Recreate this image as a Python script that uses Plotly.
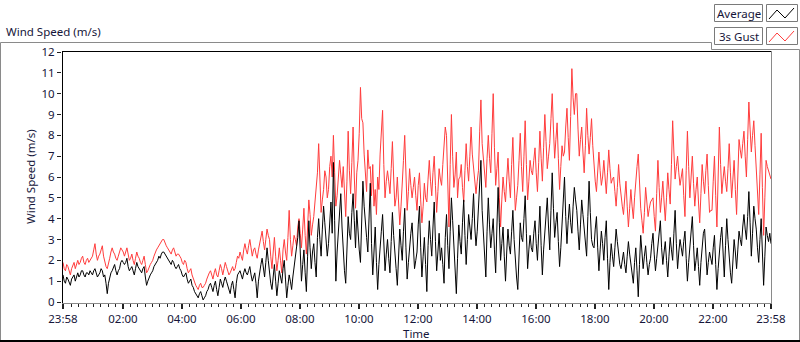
import plotly.graph_objects as go

# ---- data (2.5-minute samples, 23:58 -> 23:58) ----
sample_minutes = 2.5
tick_labels = ["23:58", "02:00", "04:00", "06:00", "08:00", "10:00", "12:00",
               "14:00", "16:00", "18:00", "20:00", "22:00", "23:58"]

average = [
1.3,1.0,0.9,1.2,1.1,0.9,0.8,1.1,1.2,1.3,1.0,1.2,1.4,1.2,1.3,1.5,1.5,1.3,1.2,1.4,1.4,1.3,1.5,1.4,
1.3,1.5,1.6,1.4,1.2,1.3,1.4,1.6,1.5,1.2,1.3,0.9,0.4,0.9,1.2,1.4,1.5,1.7,1.8,1.5,1.3,1.5,1.6,1.9,
2.0,1.9,1.8,1.9,2.1,1.7,1.5,1.6,1.7,1.5,1.3,1.6,1.9,1.7,1.6,1.5,1.4,1.6,1.7,1.2,0.8,1.0,1.2,1.3,
1.4,1.5,1.7,1.8,1.9,2.0,2.2,2.1,2.3,2.4,2.4,2.3,2.2,2.1,2.0,1.9,1.8,2.0,1.9,1.7,1.6,1.7,1.8,1.6,
1.5,1.3,1.2,1.3,1.4,1.1,0.9,1.0,1.1,0.8,0.7,0.5,0.4,0.3,0.2,0.4,0.5,0.3,0.1,0.2,0.3,0.5,0.6,0.8,
0.9,0.7,0.5,0.8,1.0,0.6,0.3,0.7,1.1,0.9,0.7,1.0,1.2,1.0,0.8,0.6,0.4,0.8,1.0,0.6,0.2,0.9,1.3,1.4,
1.5,1.3,1.1,1.4,1.6,1.4,1.3,1.5,1.7,1.3,1.0,1.2,1.4,0.9,0.2,1.0,1.5,1.8,2.1,1.6,1.2,1.9,2.6,2.0,
1.4,0.9,0.6,1.2,1.8,1.0,0.3,0.9,1.5,1.2,0.9,1.6,2.0,1.1,0.2,0.8,1.3,1.0,0.6,1.2,1.7,2.0,2.4,3.1,
3.9,2.0,1.0,1.8,2.5,1.4,0.5,2.2,3.9,2.6,1.6,2.4,2.8,1.9,1.2,3.1,4.0,3.0,2.2,3.5,4.6,3.8,3.0,2.2,
2.8,4.1,4.8,3.3,6.7,3.9,1.0,2.4,3.5,4.4,5.2,3.6,2.1,1.5,0.9,2.7,4.1,3.3,3.0,4.3,5.2,3.9,2.6,4.4,
3.2,2.5,1.9,3.7,5.8,4.6,4.0,3.1,2.4,4.0,5.7,2.8,1.3,2.4,3.6,1.9,0.6,1.8,2.9,3.4,4.2,2.7,1.5,2.3,
3.0,2.1,1.4,2.9,4.3,3.2,2.2,1.6,0.8,2.3,3.5,2.7,2.0,3.4,4.5,2.6,1.1,1.9,2.7,3.3,3.8,2.5,1.6,2.0,
2.4,3.7,4.6,2.6,1.2,2.2,3.1,1.8,0.5,2.7,3.9,3.0,2.2,3.6,4.8,2.9,1.5,2.4,3.3,2.0,2.6,1.8,0.9,3.1,
4.2,2.7,1.6,3.4,5.0,3.9,2.8,1.7,0.4,2.1,3.7,2.9,2.3,3.8,4.9,3.2,1.8,3.0,4.2,3.6,3.0,4.0,5.2,3.6,
2.7,3.4,4.5,5.6,6.8,4.4,3.1,2.2,1.2,3.4,5.0,3.7,2.6,3.3,4.0,2.5,1.4,3.6,5.5,3.8,2.0,2.8,3.6,2.2,
1.0,2.4,3.5,2.7,2.3,3.4,4.4,3.0,1.8,1.2,0.6,2.2,3.8,3.1,2.9,4.0,5.1,3.3,1.6,2.5,3.2,2.6,2.4,3.3,
3.9,2.8,2.0,3.3,4.6,2.7,1.3,2.5,3.4,4.2,5.0,3.6,2.5,4.4,6.2,4.5,3.1,3.8,4.3,2.9,1.7,2.6,3.6,4.8,
6.0,4.1,2.8,3.9,4.7,3.8,3.3,4.6,5.5,4.9,4.4,3.4,2.5,3.7,4.9,4.2,3.6,2.8,2.2,4.1,5.8,4.3,3.0,2.7,
2.6,3.5,4.1,2.6,1.5,2.5,3.4,2.8,2.0,3.1,3.9,2.1,0.6,1.9,2.8,2.2,1.7,2.6,3.5,2.9,2.2,1.8,1.6,2.0,
2.4,1.8,1.4,2.2,2.9,2.3,1.8,1.3,0.9,1.9,2.6,1.5,0.25,1.8,3.2,2.4,1.6,2.2,2.7,1.9,1.3,1.8,2.1,2.8,
3.3,2.3,1.5,2.1,2.6,3.2,3.9,2.6,1.8,2.4,2.9,2.0,1.2,2.2,3.1,2.5,2.0,3.3,4.4,2.8,1.6,2.4,3.0,2.6,
2.2,2.9,3.4,2.1,1.0,1.9,2.8,3.5,4.1,2.7,1.5,2.0,2.6,1.7,0.8,1.9,2.9,3.3,3.5,2.3,1.3,1.9,2.4,2.1,
1.8,2.6,3.2,1.8,0.6,1.6,2.5,3.1,3.6,2.3,1.2,2.7,4.0,3.0,2.1,1.4,0.9,2.0,3.0,2.4,1.6,2.5,3.4,3.0,
2.7,3.6,4.2,3.5,3.0,4.1,5.3,3.8,2.2,3.3,4.6,4.0,3.5,2.6,1.9,3.0,4.0,2.4,0.8,2.2,3.6,3.2,2.9,3.3,
2.8]

gust = [
1.9,1.6,1.5,1.8,1.7,1.5,1.3,1.6,1.8,1.9,1.6,1.8,2.0,1.8,1.9,2.1,2.2,1.9,1.8,2.0,2.1,1.9,2.0,2.1,
2.2,2.5,2.8,2.3,2.0,2.2,2.3,2.5,2.7,2.2,1.9,1.7,1.6,1.8,2.1,2.4,2.6,2.4,2.3,2.1,2.0,2.2,2.4,2.6,
2.5,2.4,2.2,2.4,2.6,2.3,2.0,2.1,2.3,2.0,1.8,2.1,2.4,2.2,2.1,1.9,1.8,2.0,2.2,1.8,1.4,1.5,1.7,1.8,
1.9,2.0,2.2,2.4,2.5,2.6,2.7,2.8,2.9,3.0,3.0,2.8,2.7,2.6,2.5,2.4,2.3,2.5,2.6,2.4,2.2,2.3,2.3,2.2,
2.1,1.9,1.8,2.0,1.9,1.6,1.4,1.5,1.6,1.3,1.1,0.9,0.8,0.7,0.6,0.8,0.9,0.7,0.7,0.8,0.9,1.1,1.3,1.4,
1.5,1.3,1.1,1.4,1.6,1.3,1.2,1.5,1.8,1.6,1.3,1.6,1.9,1.7,1.5,1.3,1.4,1.6,1.7,1.5,1.6,1.9,2.2,2.1,
2.4,2.2,2.0,2.5,2.8,2.5,2.3,2.7,3.0,2.6,2.2,2.5,2.6,2.3,2.1,2.5,2.8,3.1,3.4,2.9,2.5,3.0,3.5,3.2,
3.0,2.2,1.6,2.4,3.1,2.2,1.5,2.0,2.6,2.0,1.4,2.5,3.0,2.4,2.0,3.1,4.4,3.0,2.2,2.7,3.2,3.0,2.7,3.6,
4.0,3.3,2.6,3.5,4.5,3.2,2.3,3.6,4.9,4.2,3.2,3.7,4.1,4.8,5.5,6.2,7.6,5.6,4.3,4.9,5.4,6.3,6.0,5.0,
5.4,6.5,7.0,6.0,8.0,6.2,4.6,5.1,6.2,6.8,6.1,5.5,6.5,5.2,4.1,5.8,8.2,6.3,5.2,6.7,8.4,6.0,4.5,6.2,
6.8,8.1,10.3,8.8,8.6,7.1,6.0,5.3,7.3,6.4,6.5,5.1,6.6,4.6,5.4,4.2,6.0,5.4,7.1,8.0,9.2,6.6,5.0,5.8,
6.3,5.8,5.2,6.4,7.7,6.0,4.6,5.0,6.0,4.8,3.7,4.6,5.5,6.8,8.0,5.9,4.4,5.3,6.4,5.6,5.0,5.5,6.0,5.1,
4.4,5.6,6.2,4.9,3.8,4.6,5.7,5.0,4.8,5.9,6.8,5.8,5.1,6.2,7.0,5.6,4.3,5.3,6.4,5.9,5.6,6.6,7.6,8.4,
8.0,5.4,3.6,6.6,9.0,7.0,5.5,6.1,7.2,5.0,5.9,6.0,6.6,5.5,4.8,6.3,7.6,6.5,5.8,7.0,8.4,7.1,6.4,5.6,
5.2,5.8,6.3,8.2,9.7,7.6,6.8,6.0,5.5,6.9,8.0,6.9,6.2,8.1,10.0,7.4,5.6,6.4,7.2,5.0,3.6,4.9,6.0,5.3,
4.8,5.9,6.9,5.8,5.0,6.6,7.9,5.9,4.4,5.0,5.6,6.8,8.1,6.5,5.3,7.0,8.7,6.6,4.9,5.8,6.8,6.3,6.1,6.8,
7.4,6.2,5.3,6.7,8.2,6.9,5.8,7.4,9.0,7.7,6.4,7.0,7.6,8.8,10.0,8.3,6.9,7.8,8.6,6.9,5.4,6.5,7.5,7.0,
7.2,8.4,9.3,7.9,6.8,8.9,11.2,9.8,9.0,10.0,10.0,8.3,7.0,7.8,8.4,7.2,6.2,7.5,9.3,8.0,7.1,7.9,8.8,7.5,
6.4,5.8,5.3,6.1,7.2,6.3,5.6,6.0,6.8,6.0,5.2,6.2,7.3,6.4,5.7,5.9,6.0,5.3,4.6,5.5,6.6,5.7,5.0,4.6,
4.2,5.0,5.8,4.6,3.6,4.5,5.4,4.6,4.0,5.0,6.0,6.5,7.1,5.6,4.5,3.9,3.3,4.3,5.5,4.8,4.1,4.5,4.8,4.9,
5.0,4.1,3.4,5.2,6.8,5.5,4.3,5.0,5.8,4.8,3.9,5.0,6.2,5.4,4.7,6.6,8.7,7.2,5.9,6.5,7.0,6.2,5.6,6.0,
6.4,5.1,4.1,6.3,8.2,6.5,5.0,6.0,7.0,5.7,4.6,5.4,6.0,4.8,3.8,5.2,6.6,5.8,5.2,6.3,7.1,5.6,4.3,4.4,
4.4,5.8,7.0,5.1,3.6,6.0,8.4,6.6,5.2,5.9,6.5,5.8,5.3,6.4,7.6,6.2,5.0,5.9,6.8,5.4,4.2,6.0,7.8,7.3,
6.9,7.6,8.2,7.0,6.0,7.8,9.6,8.3,7.2,8.0,8.7,7.5,6.5,5.2,4.2,6.1,8.1,5.5,3.2,5.0,6.8,6.5,6.3,6.0,
5.9]

# time axis in hours since 23:58
hours_avg = [i * sample_minutes / 60 for i in range(len(average))]
hours_gust = [i * sample_minutes / 60 for i in range(len(gust))]
start_offset = 2 / 60  # 23:58 -> 00:00
tick_vals = [0] + [start_offset + 2 * k for k in range(1, 12)] + [24]

FONT = "Noto Sans"
FS = 11.5
TXT = "#16163a"
RED = "#ff3c3c"

fig = go.Figure()
fig.add_trace(go.Scatter(x=hours_gust, y=gust, mode="lines", name="3s Gust",
                         line=dict(color=RED, width=1)))
fig.add_trace(go.Scatter(x=hours_avg, y=average, mode="lines", name="Average",
                         line=dict(color="black", width=1)))

L, R, T, B = 62, 772, 51, 303
W, H = 800, 342


def px(x):
    return (x - L) / (R - L)


def py(y):
    return (B - y) / (B - T)


shapes = []
def line(x0, y0, x1, y1, color, width=1):
    shapes.append(dict(type="line", xref="paper", yref="paper",
                       x0=px(x0), y0=py(y0), x1=px(x1), y1=py(y1),
                       line=dict(color=color, width=width)))

# outer panel
line(0.5, 42.5, 711.5, 42.5, "#8a8a8a")
line(711.5, 42.5, 711.5, 49.5, "#8a8a8a")
line(711.5, 49.5, 799.5, 49.5, "#8a8a8a")
line(799.5, 49.5, 799.5, 341, "#8a8a8a")
line(0.5, 42.5, 0.5, 341, "#8a8a8a")
line(0, 341, 800, 341, "black", 2)
# plot frame
line(62, 51.5, 772, 51.5, "black")
line(62.5, 51, 62.5, 303, "black")
line(771.5, 51, 771.5, 303, "#8a8a8a")

# legend boxes
def rect(x0, y0, x1, y1):
    shapes.append(dict(type="rect", xref="paper", yref="paper",
                       x0=px(x0), y0=py(y0), x1=px(x1), y1=py(y1),
                       fillcolor="white", line=dict(color="#7a7a7a", width=1)))

def zig(x0, y0, color):
    pts = [(x0 + 2, y0 + 14), (x0 + 10, y0 + 5), (x0 + 18, y0 + 13), (x0 + 27, y0 + 3)]
    path = "M " + " L ".join(f"{px(a)},{py(b)}" for a, b in pts)
    shapes.append(dict(type="path", xref="paper", yref="paper", path=path,
                       line=dict(color=color, width=1)))

rect(714.5, 4.5, 762.5, 21.5)
rect(766.5, 4.5, 797.5, 21.5)
rect(714.5, 27.5, 762.5, 44.5)
rect(766.5, 27.5, 797.5, 44.5)
zig(767, 5, "black")
zig(767, 28, RED)

annotations = [
    dict(text="Wind Speed (m/s)", x=px(4), y=py(31), xanchor="left", yanchor="middle"),
    dict(text="Wind Speed (m/s)", x=px(30), y=py(177), textangle=-90,
         xanchor="center", yanchor="middle"),
    dict(text="Time", x=px(416), y=py(333), xanchor="center", yanchor="middle"),
    dict(text="Average", x=px(738.5), y=py(13), xanchor="center", yanchor="middle"),
    dict(text="3s Gust", x=px(738.5), y=py(36), xanchor="center", yanchor="middle"),
]
for a in annotations:
    a.update(xref="paper", yref="paper", showarrow=False,
             font=dict(family=FONT, size=FS, color=TXT))

fig.update_layout(
    width=W, height=H,
    margin=dict(l=L, r=W - R, t=T, b=H - B, pad=0),
    paper_bgcolor="white", plot_bgcolor="white",
    showlegend=False,
    shapes=shapes, annotations=annotations,
    font=dict(family=FONT, size=FS, color=TXT),
    xaxis=dict(range=[-1 / 29.5, 24 + 1 / 29.5], tickmode="array",
               tickvals=tick_vals, ticktext=tick_labels,
               ticks="outside", ticklen=5, tickwidth=2, tickcolor="#222",
               showgrid=False, zeroline=False,
               showline=True, linecolor="#8a8a8a", linewidth=1,
               minor=dict(tick0=start_offset, dtick=0.25, ticks="outside",
                          ticklen=3, tickwidth=1, tickcolor="#222", showgrid=False),
               tickfont=dict(family=FONT, size=FS, color=TXT)),
    yaxis=dict(range=[-1 / 20.83, 12 + 1 / 20.83], tickmode="linear", tick0=0, dtick=1,
               ticks="outside", ticklen=4, tickwidth=1, tickcolor="#222",
               showgrid=False, zeroline=False, showline=False,
               tickfont=dict(family=FONT, size=FS, color=TXT)),
)

fig.write_html("out.html", config={"displayModeBar": False},
               post_script="document.body.style.margin='0';document.body.style.overflow='hidden';")
